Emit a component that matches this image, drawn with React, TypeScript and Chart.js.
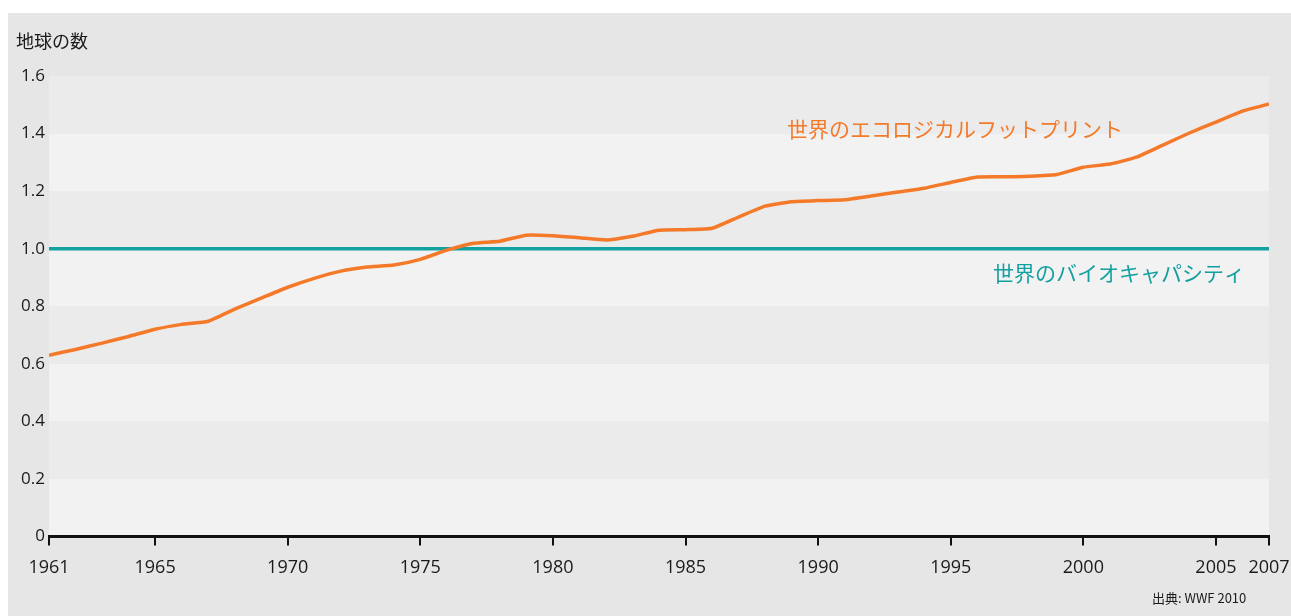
import { useEffect, useRef } from 'react';
import { Chart, registerables } from 'chart.js';

Chart.register(...registerables);

const years = [
  1961, 1962, 1963, 1964, 1965, 1966, 1967, 1968, 1969, 1970,
  1971, 1972, 1973, 1974, 1975, 1976, 1977, 1978, 1979, 1980,
  1981, 1982, 1983, 1984, 1985, 1986, 1987, 1988, 1989, 1990,
  1991, 1992, 1993, 1994, 1995, 1996, 1997, 1998, 1999, 2000,
  2001, 2002, 2003, 2004, 2005, 2006, 2007,
];
const footprint = [
  0.63, 0.65, 0.672, 0.695, 0.72, 0.737, 0.748, 0.79, 0.828, 0.866,
  0.897, 0.922, 0.936, 0.943, 0.963, 0.995, 1.019, 1.026, 1.047, 1.045,
  1.038, 1.03, 1.043, 1.064, 1.066, 1.071, 1.11, 1.148, 1.163, 1.167,
  1.17, 1.183, 1.197, 1.21, 1.23, 1.249, 1.25, 1.252, 1.258, 1.283,
  1.294, 1.318, 1.36, 1.402, 1.44, 1.478, 1.503,
];
const biocapacityYears = [1961, 2007];
const biocapacity = [1, 1];
const xTickYears = [1961, 1965, 1970, 1975, 1980, 1985, 1990, 1995, 2000, 2005, 2007];
const yTickValues = [0, 0.2, 0.4, 0.6, 0.8, 1.0, 1.2, 1.4, 1.6];

const footprintLabel = '世界のエコロジカルフットプリント';
const biocapacityLabel = '世界のバイオキャパシティ';
const yTitle = '地球の数';
const sourceLabel = '出典: WWF 2010';

const ORANGE = '#f47a2a';
const TEAL = '#13a0a0';
const CJK = '"Noto Sans CJK JP", sans-serif';
const SANS = '"Open Sans", sans-serif';

const W = 1283;
const H = 603;

export default function App() {
  const ref = useRef<HTMLCanvasElement | null>(null);

  useEffect(() => {
    if (!ref.current) return;
    const bgPlugin = {
      id: 'bg',
      beforeDraw(chart: any) {
        const { ctx, chartArea, scales } = chart;
        ctx.save();
        ctx.fillStyle = '#e6e6e6';
        ctx.fillRect(0, 0, chart.width, chart.height);
        const y = scales.y;
        for (let i = 0; i < yTickValues.length - 1; i++) {
          const top = y.getPixelForValue(yTickValues[i + 1]);
          const bot = y.getPixelForValue(yTickValues[i]);
          ctx.fillStyle = i % 2 === 0 ? '#f2f2f2' : '#ebebeb';
          ctx.fillRect(chartArea.left, top, chartArea.right - chartArea.left, bot - top);
        }
        ctx.restore();
      },
      afterDraw(chart: any) {
        const { ctx } = chart;
        ctx.save();
        ctx.textBaseline = 'middle';
        ctx.textAlign = 'left';
        ctx.fillStyle = '#1a1a1a';
        ctx.font = `18px ${CJK}`;
        ctx.fillText(yTitle, 8, 28);
        ctx.fillStyle = ORANGE;
        ctx.font = `21px ${CJK}`;
        ctx.fillText(footprintLabel, 779, 116);
        ctx.fillStyle = TEAL;
        ctx.fillText(biocapacityLabel, 985, 260);
        ctx.fillStyle = '#1a1a1a';
        ctx.font = `13px ${CJK}`;
        ctx.fillText(sourceLabel, 1144, 585);
        ctx.restore();
      },
    };

    const chart = new Chart(ref.current, {
      type: 'line',
      data: {
        datasets: [
          {
            label: biocapacityLabel,
            data: biocapacityYears.map((x, i) => ({ x, y: biocapacity[i] })),
            borderColor: TEAL,
            borderWidth: 3.5,
            pointRadius: 0,
            order: 2,
          },
          {
            label: footprintLabel,
            data: years.map((x, i) => ({ x, y: footprint[i] })),
            borderColor: ORANGE,
            borderWidth: 3.5,
            pointRadius: 0,
            tension: 0.15,
            order: 1,
          },
        ],
      },
      options: {
        animation: false,
        responsive: false,
        layout: { padding: { top: 63, right: 22, left: 0, bottom: 0 } },
        plugins: { legend: { display: false }, tooltip: { enabled: false } },
        scales: {
          x: {
            type: 'linear',
            min: 1961,
            max: 2007,
            afterBuildTicks: (scale: any) => {
              scale.ticks = xTickYears.map((v) => ({ value: v }));
            },
            afterFit: (scale: any) => {
              scale.height = 79.5;
              scale.paddingLeft = 0;
              scale.paddingRight = 0;
            },
            ticks: {
              autoSkip: false,
              maxRotation: 0,
              padding: 12,
              color: '#1a1a1a',
              font: { family: SANS, size: 18 },
              callback: (v: any) => String(v),
            },
            grid: {
              drawOnChartArea: false,
              drawTicks: true,
              tickLength: 9,
              color: '#111',
              lineWidth: 2,
            },
            border: { display: true, color: '#111', width: 3 },
          },
          y: {
            min: 0,
            max: 1.6,
            afterBuildTicks: (scale: any) => {
              scale.ticks = yTickValues.map((v) => ({ value: v }));
            },
            afterFit: (scale: any) => {
              scale.width = 41;
            },
            ticks: {
              padding: 4,
              color: '#1a1a1a',
              font: { family: SANS, size: 17 },
              callback: (v: any) => (v === 0 ? '0' : Number(v).toFixed(1)),
            },
            grid: { display: false, drawTicks: false },
            border: { display: false },
          },
        },
      },
      plugins: [bgPlugin],
    });
    return () => chart.destroy();
  }, []);

  return (
    <div style={{ position: 'absolute', left: 8, top: 13, width: W, height: H }}>
      <canvas ref={ref} width={W} height={H} style={{ display: 'block', width: W, height: H }} />
    </div>
  );
}
